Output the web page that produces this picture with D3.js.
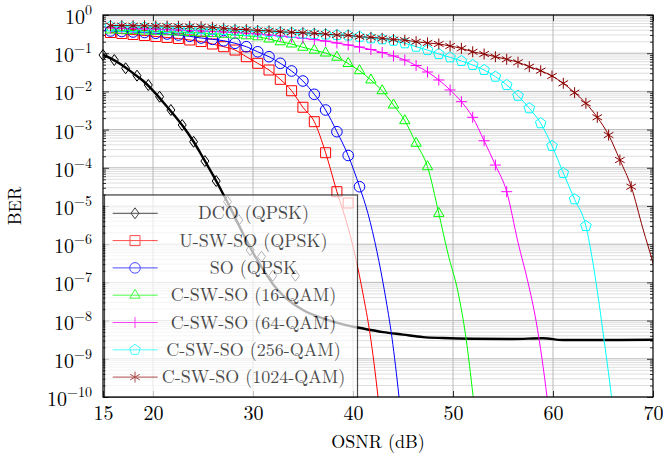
<!DOCTYPE html>
<html>
<head>
<meta charset="utf-8">
<script src="https://cdn.jsdelivr.net/npm/d3@7"></script>
<style>
body { margin: 0; background: #fff; }
text { font-family: "Latin Modern Roman", "Liberation Serif", "Times New Roman", serif; }
</style>
</head>
<body>
<svg id="chart" width="663" height="457"></svg>
<script>
/* BER vs OSNR chart */

// shared OSNR grid (dB) of the simulated SO points
const osnr = [15.75, 16.88, 18.01, 19.15, 20.28, 21.41, 22.54, 23.67, 24.81, 25.94,
	27.07, 28.20, 29.33, 30.47, 31.60, 32.73, 33.86, 34.99, 36.13, 37.26,
	38.39, 39.52, 40.65, 41.79, 42.92, 44.05, 45.18, 46.31, 47.45, 48.58,
	49.71, 50.84, 51.97, 53.11, 54.24, 55.37, 56.50, 57.63, 58.77, 59.90,
	61.03, 62.16, 63.29, 64.43, 65.56, 66.69, 67.82];

// DCO (QPSK): simulated points and the thick reference curve
const dcoOsnr = [15.0, 16.13, 17.26, 18.4, 19.53, 20.66, 21.79, 22.92, 24.06, 25.19,
	26.32, 27.45, 28.58, 29.72, 30.85, 31.98, 34.24];
const dcoBer = [0.0897, 0.0664, 0.0403, 0.0258, 0.0147, 0.00726, 0.00326, 0.00132, 4.8e-4, 1.5e-4,
	4.5e-5, 1.3e-5, 4.3e-6, 7.0e-7, 4.7e-7, 1.5e-7, 1.5e-7];
const dcoCurveOsnr = [15, 16, 17, 18, 19, 20, 21, 22, 23, 24, 25, 26, 27, 28, 29, 30, 31, 32, 33,
	35, 37, 39, 41, 43, 45, 47, 49, 52, 56, 59, 61, 65, 70];
const dcoCurveBer = [0.09, 0.068, 0.047, 0.030, 0.019, 0.0105, 0.0053, 0.0026, 0.00122, 5.1e-4,
	1.85e-4, 6.4e-5, 2.1e-5, 6.5e-6, 1.9e-6, 6e-7, 2.2e-7, 9e-8, 4.6e-8,
	1.9e-8, 1.15e-8, 8e-9, 6.2e-9, 5e-9, 4.3e-9, 3.7e-9, 3.5e-9, 3.35e-9, 3.3e-9, 3.45e-9, 3.1e-9, 3.1e-9, 3.15e-9];

// U-SW-SO (QPSK)
const uswsoBer = [0.348, 0.328, 0.309, 0.291, 0.274, 0.258, 0.243, 0.222, 0.202, 0.174,
	0.148, 0.121, 0.0809, 0.0544, 0.0363, 0.0207, 0.0104, 0.00384, 0.00161, 2.48e-4,
	2.37e-5, 1.2e-5];
const uswsoTailOsnr = [39.5, 40.3, 41.0, 41.7, 42.5, 43.0];
const uswsoTailBer = [2.8e-6, 4e-7, 5e-8, 4.5e-9, 1e-10, 5e-12];

// SO (QPSK)
const soBer = [0.381, 0.370, 0.359, 0.348, 0.332, 0.318, 0.299, 0.277, 0.250, 0.231,
	0.212, 0.182, 0.148, 0.109, 0.0809, 0.0544, 0.0342, 0.0187, 0.0084, 0.00326,
	8.8e-4, 2.1e-4, 3.2e-5];
const soTailOsnr = [41.5, 42.4, 43.2, 43.9, 44.6, 45.1];
const soTailBer = [6.3e-6, 6.3e-7, 5e-8, 3.5e-9, 1e-10, 5e-12];

// C-SW-SO (16-QAM)
const qam16Ber = [0.405, 0.397, 0.391, 0.381, 0.374, 0.365, 0.359, 0.348, 0.338, 0.326,
	0.313, 0.299, 0.285, 0.269, 0.235, 0.199, 0.174, 0.143, 0.120, 0.101,
	0.0785, 0.0537, 0.0348, 0.0199, 0.0104, 0.0044, 0.00171, 4.4e-4, 1.07e-4, 6.4e-6];
const qam16TailOsnr = [49.5, 50.5, 51.3, 52.0, 52.6];
const qam16TailBer = [5.6e-7, 5.6e-8, 3.5e-9, 1.1e-10, 4e-12];

// C-SW-SO (64-QAM)
const qam64Ber = [0.457, 0.449, 0.441, 0.430, 0.422, 0.412, 0.403, 0.393, 0.381, 0.370,
	0.359, 0.346, 0.332, 0.318, 0.299, 0.282, 0.262, 0.245, 0.227, 0.208,
	0.185, 0.164, 0.145, 0.125, 0.104, 0.0845, 0.0664, 0.0476, 0.0322, 0.0199,
	0.0109, 0.00537, 0.0021, 5.1e-4, 1.18e-4, 2.37e-5];
const qam64TailOsnr = [56.5, 57.5, 58.3, 58.9, 59.4, 59.9];
const qam64TailBer = [1.12e-6, 1e-7, 1e-8, 1e-9, 1e-10, 6.3e-12];

// C-SW-SO (256-QAM)
const qam256Ber = [0.500, 0.491, 0.482, 0.473, 0.465, 0.457, 0.446, 0.435, 0.425, 0.415,
	0.405, 0.393, 0.381, 0.370, 0.359, 0.348, 0.338, 0.328, 0.318, 0.309,
	0.299, 0.291, 0.270, 0.245, 0.231, 0.212, 0.182, 0.148, 0.121, 0.0953,
	0.0781, 0.0625, 0.0491, 0.0363, 0.0243, 0.0147, 0.0077, 0.00362, 0.00147, 3.74e-4,
	7.3e-5, 1.5e-5, 3.0e-6];
const qam256TailOsnr = [64.0, 64.5, 65.0, 65.85, 66.4];
const qam256TailBer = [3.2e-7, 4.5e-8, 5e-9, 1e-10, 5e-12];

// C-SW-SO (1024-QAM)
const qam1024Ber = [0.531, 0.528, 0.525, 0.522, 0.515, 0.512, 0.506, 0.500, 0.494, 0.476,
	0.449, 0.422, 0.415, 0.393, 0.386, 0.365, 0.352, 0.344, 0.332, 0.318,
	0.299, 0.294, 0.270, 0.261, 0.245, 0.228, 0.219, 0.200, 0.185, 0.174,
	0.154, 0.134, 0.109, 0.0953, 0.0809, 0.0692, 0.0578, 0.0443, 0.0348, 0.0253,
	0.0163, 0.00925, 0.00488, 0.0021, 7.2e-4, 1.6e-4, 3.2e-5];
const qam1024TailOsnr = [69.0, 70.0, 70.6];
const qam1024TailBer = [2.5e-6, 3.2e-7, 8e-8];

const legendNames = ["DCO (QPSK)", "U-SW-SO (QPSK)", "SO (QPSK", "C-SW-SO (16-QAM)",
	"C-SW-SO (64-QAM)", "C-SW-SO (256-QAM)", "C-SW-SO (1024-QAM)"];
const xTicks = [15, 20, 30, 40, 50, 60, 70];
const yExponents = [0, -1, -2, -3, -4, -5, -6, -7, -8, -9, -10];

const zip = (xs, ys) => ys.map((v, i) => [xs[i], v]);

function withTail(marks, tail) {
	return marks.filter(p => p[0] < tail[0][0]).concat(tail);
}

const soMarks = [uswsoBer, soBer, qam16Ber, qam64Ber, qam256Ber, qam1024Ber].map(b => zip(osnr, b));
const series = [
	{color: "#000000", mark: "diamond", width: 2.4, marks: zip(dcoOsnr, dcoBer), line: zip(dcoCurveOsnr, dcoCurveBer)},
	{color: "#ff0000", mark: "square", marks: soMarks[0], line: withTail(soMarks[0], zip(uswsoTailOsnr, uswsoTailBer))},
	{color: "#0000ff", mark: "circle", marks: soMarks[1], line: withTail(soMarks[1], zip(soTailOsnr, soTailBer))},
	{color: "#00ff00", mark: "triangle", marks: soMarks[2], line: withTail(soMarks[2], zip(qam16TailOsnr, qam16TailBer))},
	{color: "#ff00ff", mark: "plus", marks: soMarks[3], line: withTail(soMarks[3], zip(qam64TailOsnr, qam64TailBer))},
	{color: "#00ffff", mark: "pentagon", marks: soMarks[4], line: withTail(soMarks[4], zip(qam256TailOsnr, qam256TailBer))},
	{color: "#8b0000", mark: "star", marks: soMarks[5], line: withTail(soMarks[5], zip(qam1024TailOsnr, qam1024TailBer))}
];
series.forEach((s, i) => s.name = legendNames[i]);

function markPath(type) {
	const pts = (n, r, a0) => d3.range(n).map(i => {
		const a = a0 + i * 2 * Math.PI / n;
		return [r * Math.cos(a), r * Math.sin(a)];
	});
	switch (type) {
		case "diamond": return "M0,-5.5L4,0L0,5.5L-4,0Z";
		case "square": return "M-5,-5H5V5H-5Z";
		case "circle": return "M5.3,0A5.3,5.3 0 1 1 -5.3,0A5.3,5.3 0 1 1 5.3,0Z";
		case "triangle": return "M" + pts(3, 6, -Math.PI / 2).join("L") + "Z";
		case "pentagon": return "M" + pts(5, 5.6, -Math.PI / 2).join("L") + "Z";
		case "plus": return "M-5.5,0H5.5M0,-5.5V5.5";
		case "star": return pts(6, 5.5, -Math.PI / 2).map(p => "M0,0L" + p).join("");
	}
}

const svg = d3.select("#chart");
const x = d3.scaleLinear().domain([15, 70]).range([103, 653]);
const y = d3.scaleLog().domain([1e-10, 1]).range([397, 15]);
const [x0, x1] = x.range();
const [y0, y1] = [y.range()[1], y.range()[0]];

const decades = yExponents.map(e => Math.pow(10, e));
const minor = [];
for (let e = -10; e < 0; e++) for (let k = 2; k <= 9; k++) minor.push(k * Math.pow(10, e));

// grid
const grid = svg.append("g");
grid.selectAll(".minor").data(minor).join("line")
	.attr("x1", x0).attr("x2", x1)
	.attr("y1", d => y(d)).attr("y2", d => y(d))
	.attr("stroke", "#d6d6d6").attr("stroke-width", 0.8);
grid.selectAll(".major").data(decades).join("line")
	.attr("x1", x0).attr("x2", x1)
	.attr("y1", d => y(d)).attr("y2", d => y(d))
	.attr("stroke", "#b8b8b8").attr("stroke-width", 1);
grid.selectAll(".vert").data(xTicks.slice(1, -1)).join("line")
	.attr("x1", d => x(d)).attr("x2", d => x(d))
	.attr("y1", y0).attr("y2", y1)
	.attr("stroke", "#b8b8b8").attr("stroke-width", 1);

// axes
const gx = svg.append("g").attr("transform", `translate(0,${y1})`)
	.call(d3.axisBottom(x).tickValues(xTicks).tickSizeInner(-6).tickSizeOuter(0).tickPadding(9));
svg.append("g").attr("transform", `translate(0,${y0})`)
	.call(d3.axisTop(x).tickValues(xTicks).tickSizeInner(-6).tickSizeOuter(0).tickFormat(""));
const gy = svg.append("g").attr("transform", `translate(${x0},0)`)
	.call(d3.axisLeft(y).tickValues(decades).tickSizeInner(-6).tickSizeOuter(0).tickPadding(11).tickFormat(""));
svg.append("g").attr("transform", `translate(${x1},0)`)
	.call(d3.axisRight(y).tickValues(decades).tickSizeInner(-6).tickSizeOuter(0).tickFormat(""));
svg.append("g").attr("transform", `translate(${x0},0)`)
	.call(d3.axisLeft(y).tickValues(minor).tickSizeInner(-3).tickSizeOuter(0).tickFormat(""));
svg.append("g").attr("transform", `translate(${x1},0)`)
	.call(d3.axisRight(y).tickValues(minor).tickSizeInner(-3).tickSizeOuter(0).tickFormat(""));
svg.selectAll(".domain").remove();
svg.selectAll(".tick line").attr("stroke", "#333");

gx.selectAll(".tick text").attr("font-size", 20).attr("fill", "#000");
gy.selectAll(".tick text").each(function(d) {
	const t = d3.select(this).attr("font-size", 20).attr("fill", "#000").attr("dy", "0.42em");
	const e = Math.round(Math.log10(d));
	t.append("tspan").text("10");
	t.append("tspan").attr("dy", -9).attr("font-size", 14).text(e < 0 ? "\u2212" + (-e) : String(e));
});

// data
svg.append("clipPath").attr("id", "plot-clip")
	.append("rect").attr("x", x0).attr("y", y0).attr("width", x1 - x0).attr("height", y1 - y0);

const line = d3.line().x(d => x(d[0])).y(d => y(d[1])).curve(d3.curveMonotoneX);
const plot = svg.append("g");
series.forEach(s => {
	plot.append("path")
		.attr("d", line(s.line))
		.attr("clip-path", "url(#plot-clip)")
		.attr("fill", "none")
		.attr("stroke", s.color)
		.attr("stroke-width", s.width || 1);
	plot.append("g").selectAll("path").data(s.marks).join("path")
		.attr("transform", d => `translate(${x(d[0])},${y(d[1])})`)
		.attr("d", markPath(s.mark))
		.attr("fill", "none")
		.attr("stroke", s.color)
		.attr("stroke-width", 1);
});

// frame
svg.append("rect")
	.attr("x", x0).attr("y", y0).attr("width", x1 - x0).attr("height", y1 - y0)
	.attr("fill", "none").attr("stroke", "#000").attr("stroke-width", 1.2);

// legend
const legend = svg.append("g").attr("opacity", 0.7);
legend.append("rect")
	.attr("x", 104.5).attr("y", 195).attr("width", 253).attr("height", y1 - 195)
	.attr("fill", "#fff").attr("stroke", "#000").attr("stroke-width", 1.2);
const rows = legend.selectAll(".row").data(series).join("g")
	.attr("transform", (d, i) => `translate(0,${213.3 + i * 27.3})`);
rows.append("line")
	.attr("x1", 112.7).attr("x2", 157.7)
	.attr("stroke", d => d.color).attr("stroke-width", 1);
rows.append("path")
	.attr("transform", "translate(135,0)")
	.attr("d", d => markPath(d.mark))
	.attr("fill", "none").attr("stroke", d => d.color).attr("stroke-width", 1);
rows.append("text")
	.attr("x", 253.5).attr("y", 6)
	.attr("text-anchor", "middle").attr("font-size", 18).attr("fill", "#000")
	.text(d => d.name);

// axis titles
svg.append("text")
	.attr("x", (x0 + x1) / 2).attr("y", 448)
	.attr("text-anchor", "middle").attr("font-size", 18)
	.text("OSNR (dB)");
svg.append("text")
	.attr("transform", `translate(21,${(y0 + y1) / 2}) rotate(-90)`)
	.attr("text-anchor", "middle").attr("font-size", 18)
	.text("BER");
</script>
</body>
</html>
